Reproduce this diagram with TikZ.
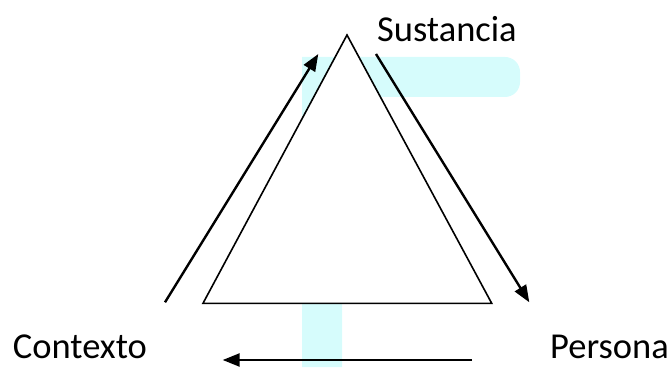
\documentclass[tikz,border=0pt]{standalone}
\usepackage{fontspec}
\setmainfont{Carlito}
\usetikzlibrary{arrows.meta}
\definecolor{triInk}{HTML}{000000}
\definecolor{triCyan}{HTML}{D6FCFC}
\tikzset{
  tri band/.style={fill=triCyan, draw=none},
  tri edge/.style={draw=triInk, fill=white, line width=1.6pt, line join=miter},
  tri arrow/.style={draw=triInk, line width=2.4pt, -{Triangle[length=17pt,width=13pt]}},
  tri label/.style={font=\fontsize{36.5}{44}\selectfont, text=triInk, inner sep=0pt, anchor=base west},
}

\begin{document}
\begin{tikzpicture}[x=1pt,y=1pt]
  \useasboundingbox (0,0) rectangle (672,367);
  % highlight band behind the triangle
  \path[tri band] (302,310) -- (505,310) to[out=0,in=90] (520,295) -- (520,285)
    to[out=-90,in=0] (505,270) -- (342,270) -- (342,0) -- (302,0) -- cycle;
  % triangle
  \coordinate (apex) at (347,332);
  \coordinate (baseL) at (203,63.7);
  \coordinate (baseR) at (491.7,63.7);
  \draw[tri edge] (apex) -- (baseR) -- (baseL) -- cycle;
  % labels
  \node[tri label] (sust) at (377,325.3) {Sustancia};
  \node[tri label] (cont) at (12.7,8.5) {Contexto};
  \node[tri label] (pers) at (550,8.5) {Persona};
  % cycle of arrows
  \coordinate (cS) at (165,64.7);
  \coordinate (cE) at (318.3,313);
  \coordinate (sS) at (376,313);
  \coordinate (sE) at (529.3,64.7);
  \coordinate (pS) at (472,7);
  \coordinate (pE) at (222.7,7);
  \draw[tri arrow] (cS) -- (cE);
  \draw[tri arrow] (sS) -- (sE);
  \draw[tri arrow] (pS) -- (pE);
\end{tikzpicture}
\end{document}
